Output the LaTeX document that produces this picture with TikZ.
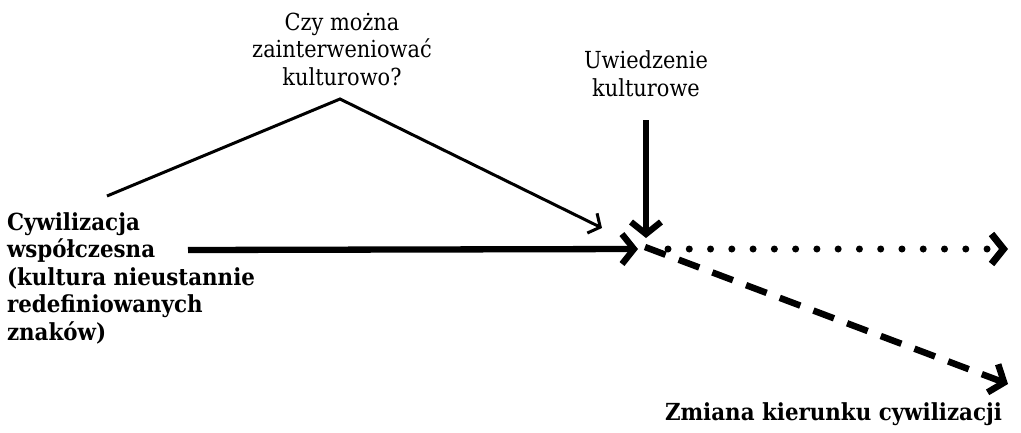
\documentclass[tikz,border=0pt]{standalone}
\usepackage{fontspec}
\setmainfont{DejaVu Serif}[FakeStretch=0.89, BoldFeatures={FakeStretch=0.91}]
\usetikzlibrary{arrows.meta}
\tikzset{
  x=1pt, y=-1pt,
  label/.style={inner sep=0pt, outer sep=0pt, font=\fontsize{23.5}{27.5}\selectfont},
  boldlabel/.style={label, font=\fontsize{23.5}{27.5}\selectfont\bfseries},
  chev/.style={-{Straight Barb[length=12pt,width=30pt]}, line join=miter},
  thick arrow/.style={chev, line width=6.3pt},
  thin arrow/.style={-{Straight Barb[length=9pt,width=22pt]}, line width=3pt},
  dotline/.style={chev, line width=7pt, line cap=round, dash pattern=on 0pt off 21.27pt},
  dashline/.style={chev, line width=6.5pt, dash pattern=on 22pt off 14pt},
}
\begin{document}
\begin{tikzpicture}
\useasboundingbox (0,0) rectangle (1021,432);

% labels (anchored on the baseline of their last line)
\node[label, align=center, anchor=base] (q) at (342,85)
  {Czy można\\zainterweniować\\kulturowo?};
\node[label, align=center, anchor=base] (u) at (646,96)
  {Uwiedzenie\\kulturowe};
\node[boldlabel, align=left, anchor=base west] (civ) at (7,340)
  {Cywilizacja\\współczesna\\(kultura nieustannie\\redefiniowanych\\znaków)};
\node[boldlabel, anchor=base west] (chg) at (665,420)
  {Zmiana kierunku cywilizacji};

% anchor points of the connectors
\coordinate (mstart) at (188,250);
\coordinate (mend) at (638,249);
\coordinate (vstart) at (646,120);
\coordinate (vend) at (646,238);
\coordinate (tstart) at (107,196);
\coordinate (apex) at (340,99);
\coordinate (tend) at (602,228);
\coordinate (dotstart) at (668,249);
\coordinate (dotend) at (1008,249);
\coordinate (dashstart) at (645,247);
\coordinate (dashend) at (1008,384);

% connectors
\draw[thin arrow] (tstart) -- (apex) -- (tend);
\draw[thick arrow] (mstart) -- (mend);
\draw[thick arrow] (vstart) -- (vend);
\draw[dotline] (dotstart) -- (dotend);
\draw[dashline] (dashstart) -- (dashend);
\end{tikzpicture}
\end{document}
